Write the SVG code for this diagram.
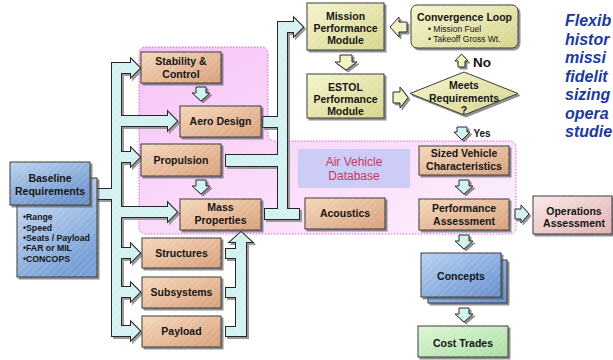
<svg xmlns="http://www.w3.org/2000/svg" xmlns:xlink="http://www.w3.org/1999/xlink" width="613" height="360" viewBox="0 0 613 360">
<defs>
<style>
.t{font-family:"Liberation Sans",Arial,sans-serif;font-weight:bold;font-size:10.5px;fill:#151515;text-anchor:middle}
.sm{font-family:"Liberation Sans",Arial,sans-serif;font-weight:bold;font-size:8.7px;fill:#151515}
.bx{stroke:#3a3a3a;stroke-width:1;filter:url(#sh)}
.tan{fill:url(#gTan)}
.yel{fill:url(#gYel)}
.h{fill:url(#hatch);stroke:none}
.ca{fill:#d4f1f1;stroke:#2a2a2a;stroke-width:1;filter:url(#sh)}
.ya{fill:#f1f1c4;stroke:#2a2a2a;stroke-width:1;filter:url(#sh)}
.bsh{fill:#9a9a9a;stroke:#9a9a9a;stroke-width:2}
.bst{fill:none;stroke:#262626;stroke-width:2}
.bfi{fill:#d4f1f1;stroke:none}
.bh{fill:url(#hatch);stroke:none}
</style>
<filter id="sh" x="-10%" y="-10%" width="130%" height="140%">
<feDropShadow dx="2" dy="2" stdDeviation="0.7" flood-color="#555" flood-opacity="0.65"/>
</filter>
<pattern id="hatch" width="5" height="5" patternUnits="userSpaceOnUse" patternTransform="rotate(45)">
<line x1="0" y1="0" x2="0" y2="5" stroke="#ffffff" stroke-opacity="0.28" stroke-width="1"/>
</pattern>
<linearGradient id="gTan" x1="0" y1="0" x2="1" y2="1">
<stop offset="0" stop-color="#f5d8bd"/><stop offset="1" stop-color="#d8a07a"/>
</linearGradient>
<linearGradient id="gYel" x1="0" y1="0" x2="1" y2="1">
<stop offset="0" stop-color="#f5f5cf"/><stop offset="1" stop-color="#d6d48c"/>
</linearGradient>
<linearGradient id="gBlueH" x1="0" y1="0" x2="0.6" y2="1">
<stop offset="0" stop-color="#bcd4ef"/><stop offset="1" stop-color="#6c95cc"/>
</linearGradient>
<linearGradient id="gBlueL" x1="0" y1="0" x2="0.5" y2="1">
<stop offset="0" stop-color="#d6e5f6"/><stop offset="1" stop-color="#78a0d6"/>
</linearGradient>
<linearGradient id="gConc" x1="0" y1="0" x2="1" y2="1">
<stop offset="0" stop-color="#b8d2f2"/><stop offset="1" stop-color="#6890cf"/>
</linearGradient>
<linearGradient id="gGreen" x1="0" y1="0" x2="1" y2="1">
<stop offset="0" stop-color="#def6d8"/><stop offset="1" stop-color="#aadfa2"/>
</linearGradient>
<linearGradient id="gOps" x1="0" y1="0" x2="1" y2="1">
<stop offset="0" stop-color="#fae8e8"/><stop offset="1" stop-color="#dfb0b0"/>
</linearGradient>
<linearGradient id="gPink" x1="0" y1="0" x2="1" y2="1">
<stop offset="0" stop-color="#f7c4f7"/><stop offset="1" stop-color="#fdf0fd"/>
</linearGradient>
<g id="brL">
<rect x="96" y="189" width="17" height="10"/>
<rect x="112" y="63" width="9" height="273"/>
<path d="M112,63H131V59L140,68L131,77V73H112Z"/>
<path d="M112,116H168V112L177,121L168,130V126H112Z"/>
<path d="M112,152H131V148L140,157L131,166V162H112Z"/>
<path d="M112,207H168V203L177,212L168,221V217H112Z"/>
<path d="M112,248H131V244L140,253L131,262V258H112Z"/>
<path d="M112,287H131V283L140,292L131,301V297H112Z"/>
<path d="M112,326H131V322L140,331L131,340V336H112Z"/>
</g>
<g id="brR">
<rect x="263" y="117" width="24" height="10"/>
<rect x="226" y="155" width="61" height="11"/>
<rect x="278" y="22" width="9" height="197"/>
<path d="M278,22H294V18L303,27L294,36V32H278Z"/>
<rect x="265" y="209" width="34" height="10"/>
</g>
<g id="brB">
<rect x="226" y="249" width="20" height="9"/>
<rect x="226" y="288" width="20" height="9"/>
<rect x="226" y="327" width="20" height="9"/>
<path d="M236,336V242H230L241,232L252,242H246V336Z"/>
</g>
</defs>
<rect width="613" height="360" fill="#ffffff"/>

<path id="zone" d="M146,47H261Q268,47 268,54V134Q268,141 275,141H509Q516,141 516,148V227Q516,234 509,234H146Q139,234 139,227V54Q139,47 146,47Z" fill="url(#gPink)" stroke="#c24cc2" stroke-width="0.8" stroke-dasharray="1.5,1.5"/>

<g id="connectors">
<use xlink:href="#brL" class="bsh" transform="translate(2,2)"/>
<use xlink:href="#brL" class="bst"/>
<use xlink:href="#brL" class="bfi"/>
<use xlink:href="#brL" class="bh"/>
<use xlink:href="#brR" class="bsh" transform="translate(2,2)"/>
<use xlink:href="#brR" class="bst"/>
<use xlink:href="#brR" class="bfi"/>
<use xlink:href="#brR" class="bh"/>
<use xlink:href="#brB" class="bsh" transform="translate(2,2)"/>
<use xlink:href="#brB" class="bst"/>
<use xlink:href="#brB" class="bfi"/>
<use xlink:href="#brB" class="bh"/>
<path class="ca" d="M196,87H206V93H210L201,101L192,93H196Z"/>
<path class="ca" d="M196,180H206V186H210L201,194L192,186H196Z"/>
<path class="ya" d="M340,55H352V62H357L346,70L335,62H340Z"/>
<path class="ya" d="M393,92H400V87L408,97.5L400,108V103H393Z"/>
<path class="ya" d="M407,22H399V17L390,27L399,37V32H407Z"/>
<path class="ya" d="M458,67V61H455L461.5,54L468,61H465V67Z"/>
<path class="ca" d="M457,127H467V132H470L462,140L454,132H457Z"/>
<path class="ca" d="M459,180H469V186H473L464,194L455,186H459Z"/>
<path class="ca" d="M515,209H521V205L529,214L521,223V219H515Z"/>
<path class="ca" d="M459,235H469V241H473L464,249L455,241H459Z"/>
<path class="ca" d="M459,308H469V314H473L464,322L455,314H459Z"/>
</g>

<g id="baseline">
<rect class="bx" x="17" y="178" width="80" height="99" fill="url(#gBlueL)"/>
<rect class="h" x="17" y="178" width="80" height="99"/>
<rect class="bx" x="10" y="162" width="80" height="43" fill="url(#gBlueH)"/>
<rect class="h" x="10" y="162" width="80" height="43"/>
<text class="t" x="50" y="182">Baseline</text>
<text class="t" x="50" y="195">Requirements</text>
<text class="sm" x="23" y="220">•Range</text>
<text class="sm" x="23" y="231">•Speed</text>
<text class="sm" x="23" y="241">•Seats / Payload</text>
<text class="sm" x="23" y="251">•FAR or MIL</text>
<text class="sm" x="23" y="262">•CONCOPS</text>
</g>

<g id="stability">
<rect class="bx tan" x="141" y="52" width="80" height="31"/><rect class="h" x="141" y="52" width="80" height="31"/>
<text class="t" x="181" y="65">Stability &amp;</text>
<text class="t" x="181" y="78">Control</text>
</g>
<g id="aero">
<rect class="bx tan" x="180" y="106" width="81" height="31"/><rect class="h" x="180" y="106" width="81" height="31"/>
<text class="t" x="220.5" y="125">Aero Design</text>
</g>
<g id="propulsion">
<rect class="bx tan" x="141" y="144" width="80" height="32"/><rect class="h" x="141" y="144" width="80" height="32"/>
<text class="t" x="181" y="164">Propulsion</text>
</g>
<g id="mass">
<rect class="bx tan" x="180" y="199" width="81" height="31"/><rect class="h" x="180" y="199" width="81" height="31"/>
<text class="t" x="220.5" y="211">Mass</text>
<text class="t" x="220.5" y="224">Properties</text>
</g>
<g id="structures">
<rect class="bx tan" x="142" y="238" width="79" height="30"/><rect class="h" x="142" y="238" width="79" height="30"/>
<text class="t" x="181.5" y="257">Structures</text>
</g>
<g id="subsystems">
<rect class="bx tan" x="142" y="277" width="79" height="31"/><rect class="h" x="142" y="277" width="79" height="31"/>
<text class="t" x="181.5" y="296">Subsystems</text>
</g>
<g id="payload">
<rect class="bx tan" x="142" y="316" width="79" height="31"/><rect class="h" x="142" y="316" width="79" height="31"/>
<text class="t" x="181.5" y="335">Payload</text>
</g>

<g id="mission">
<rect class="bx yel" x="307" y="3" width="77" height="47"/><rect class="h" x="307" y="3" width="77" height="47"/>
<text class="t" x="345.5" y="20">Mission</text>
<text class="t" x="345.5" y="32">Performance</text>
<text class="t" x="345.5" y="44">Module</text>
</g>
<g id="estol">
<rect class="bx yel" x="307" y="74" width="77" height="44"/><rect class="h" x="307" y="74" width="77" height="44"/>
<text class="t" x="345.5" y="91">ESTOL</text>
<text class="t" x="345.5" y="103">Performance</text>
<text class="t" x="345.5" y="115">Module</text>
</g>
<g id="convergence">
<rect class="bx yel" x="411" y="5" width="107" height="43" rx="6"/><rect class="h" x="411" y="5" width="107" height="43" rx="6"/>
<text class="t" x="464.5" y="21">Convergence Loop</text>
<text x="428" y="32" font-family="Liberation Sans, Arial, sans-serif" font-size="8.5" fill="#151515">• Mission Fuel</text>
<text x="428" y="42" font-family="Liberation Sans, Arial, sans-serif" font-size="8.5" fill="#151515">• Takeoff Gross Wt.</text>
</g>
<g id="meets">
<polygon class="bx yel" points="410,93.5 464,72 518,93.5 464,115"/>
<polygon class="h" points="410,93.5 464,72 518,93.5 464,115"/>
<text class="t" x="464" y="89">Meets</text>
<text class="t" x="464" y="102">Requirements</text>
<text class="t" x="464" y="114">?</text>
</g>
<text class="t" x="482" y="67" style="font-size:13.5px">No</text>
<text class="t" x="482" y="137" style="font-size:10px">Yes</text>

<g id="airvehicledb">
<rect x="298" y="149" width="112" height="39" fill="#ccccf6"/>
<text x="354" y="166" font-family="Liberation Sans, Arial, sans-serif" font-size="12" fill="#c8385e" text-anchor="middle">Air Vehicle</text>
<text x="354" y="180" font-family="Liberation Sans, Arial, sans-serif" font-size="12" fill="#c8385e" text-anchor="middle">Database</text>
</g>
<g id="sized">
<rect class="bx tan" x="419" y="146" width="90" height="29"/><rect class="h" x="419" y="146" width="90" height="29"/>
<text class="t" x="464" y="157">Sized Vehicle</text>
<text class="t" x="464" y="170">Characteristics</text>
</g>
<g id="performance">
<rect class="bx tan" x="419" y="199" width="90" height="31"/><rect class="h" x="419" y="199" width="90" height="31"/>
<text class="t" x="464" y="212">Performance</text>
<text class="t" x="464" y="225">Assessment</text>
</g>
<g id="acoustics">
<rect class="bx tan" x="305" y="198" width="80" height="31"/><rect class="h" x="305" y="198" width="80" height="31"/>
<text class="t" x="345" y="217">Acoustics</text>
</g>
<g id="operations">
<rect class="bx" x="533" y="196" width="79" height="38" fill="url(#gOps)"/><rect class="h" x="533" y="196" width="79" height="38"/>
<text class="t" x="574" y="215">Operations</text>
<text class="t" x="574" y="227">Assessment</text>
</g>
<g id="concepts">
<rect class="bx" x="428" y="260" width="79" height="43" fill="url(#gConc)"/>
<rect class="bx" x="421" y="253" width="80" height="44" fill="url(#gConc)"/><rect class="h" x="421" y="253" width="80" height="44"/>
<text class="t" x="461" y="280">Concepts</text>
</g>
<g id="costtrades">
<rect class="bx" x="418" y="326" width="90" height="31" fill="url(#gGreen)"/><rect class="h" x="418" y="326" width="90" height="31"/>
<text class="t" x="463" y="347">Cost Trades</text>
</g>

<g id="note" font-family="Liberation Sans, Arial, sans-serif" font-size="16" font-weight="bold" font-style="italic" fill="#1b3a9e">
<text x="565" y="26">Flexib</text>
<text x="565" y="44.5">histor</text>
<text x="565" y="63">missi</text>
<text x="565" y="81.5">fidelit</text>
<text x="565" y="100">sizing</text>
<text x="565" y="118.5">opera</text>
<text x="565" y="137">studie</text>
</g>
</svg>
